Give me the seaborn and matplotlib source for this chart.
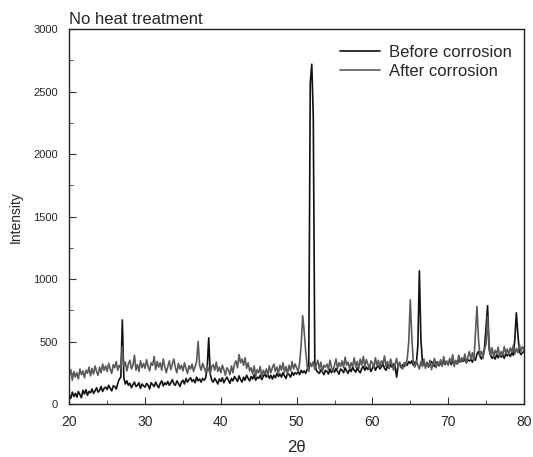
import numpy as np
import pandas as pd
import seaborn as sns
import matplotlib.pyplot as plt
from matplotlib.ticker import MultipleLocator

# 2-theta grid, 0.2 deg steps from 20 to 80
two_theta = np.linspace(20, 80, 301)

# intensity, five samples per degree
before_corrosion = [
    70, 45, 95, 60, 85,   55, 100, 75, 50, 110,   80, 115, 70, 100, 90,   120, 85, 105, 130, 95,
    110, 140, 100, 125, 135,   115, 150, 125, 105, 145,   140, 120, 165, 200, 215,   673, 210, 160, 185, 150,
    165, 130, 155, 175, 140,   150, 170, 125, 160, 145,   135, 165, 150, 120, 170,   155, 140, 175, 150, 130,
    165, 185, 145, 170, 155,   180, 150, 170, 195, 160,   150, 185, 165, 140, 175,   190, 160, 205, 175, 195,
    210, 180, 195, 170, 215,   185, 200, 175, 205, 190,   210, 290, 530, 240, 190,   175, 205, 185, 160, 200,
    180, 210, 170, 195, 215,   190, 165, 205, 185, 220,   200, 180, 225, 195, 175,   215, 190, 230, 205, 185,
    220, 200, 235, 190, 215,   205, 230, 195, 220, 240,   215, 240, 205, 230, 200,   230, 210, 245, 220, 240,
    215, 250, 225, 205, 245,   235, 215, 255, 230, 250,   240, 260, 235, 270, 250,   265, 245, 280, 310, 2570,
    2720, 2300, 330, 270, 255,   245, 275, 255, 235, 270,   260, 240, 280, 250, 275,   255, 285, 260, 240, 280,
    270, 250, 290, 265, 245,   280, 260, 295, 270, 255,   290, 265, 250, 285, 300,   270, 295, 275, 305, 260,
    285, 310, 270, 295, 305,   280, 300, 320, 285, 270,   305, 285, 315, 295, 320,   300, 215, 310, 325, 290,
    315, 300, 330, 310, 340,   325, 345, 310, 335, 320,   470, 1066, 520, 340, 315,   305, 330, 295, 325, 340,
    315, 300, 335, 320, 305,   330, 310, 345, 315, 335,   325, 345, 315, 340, 330,   345, 320, 355, 335, 350,
    340, 360, 330, 355, 345,   355, 335, 370, 350, 400,   420, 380, 360, 395, 450,   620, 786, 470, 390, 365,
    380, 360, 395, 370, 400,   375, 395, 365, 405, 385,   400, 380, 410, 390, 520,   730, 560, 420, 395, 410,
    420,
]

after_corrosion = [
    230, 275, 190, 260, 215,   250, 200, 280, 235, 265,   210, 270, 245, 295, 225,   285, 240, 305, 260, 230,
    295, 250, 320, 270, 305,   260, 325, 280, 245, 315,   290, 340, 270, 310, 285,   460, 300, 335, 265, 320,
    350, 280, 310, 390, 270,   315, 260, 345, 290, 325,   285, 355, 300, 265, 330,   310, 380, 275, 340, 295,
    330, 270, 360, 300, 250,   300, 345, 275, 320, 360,   290, 250, 325, 280, 310,   265, 330, 285, 245, 305,
    280, 320, 260, 300, 340,   500, 310, 270, 325, 290,   255, 305, 275, 240, 300,   315, 270, 335, 260, 295,
    250, 310, 275, 230, 290,   270, 235, 305, 250, 320,   345, 290, 395, 330, 360,   310, 370, 285, 330, 265,
    290, 240, 305, 225, 275,   250, 300, 215, 270, 240,   280, 230, 305, 250, 290,   320, 260, 295, 245, 310,
    270, 330, 255, 300, 240,   310, 265, 340, 280, 320,   290, 260, 330, 470, 708,   580, 420, 300, 260, 330,
    300, 340, 275, 315, 350,   280, 335, 260, 310, 295,   320, 275, 350, 295, 265,   310, 360, 285, 330, 300,
    345, 290, 375, 310, 335,   280, 330, 300, 370, 295,   340, 285, 360, 310, 380,   300, 355, 320, 280, 345,
    330, 290, 370, 310, 350,   295, 345, 320, 385, 300,   340, 285, 360, 315, 270,   320, 365, 290, 335, 300,
    280, 330, 305, 360, 500,   834, 540, 330, 295, 345,   310, 280, 340, 300, 360,   285, 335, 300, 350, 275,
    320, 365, 290, 340, 310,   355, 300, 380, 320, 345,   310, 365, 330, 395, 300,   350, 320, 390, 335, 370,
    345, 400, 330, 375, 420,   360, 410, 350, 560, 780,   520, 390, 420, 365, 440,   480, 700, 430, 390, 450,
    375, 430, 400, 455, 380,   420, 390, 460, 405, 440,   395, 450, 415, 470, 400,   445, 410, 475, 420, 460,
    430,
]

series_names = ["Before corrosion", "After corrosion"]
series_colors = ["#111111", "#5a5a5a"]

sns.set_style("ticks")
plt.rcParams['font.family'] = ['Liberation Sans', 'DejaVu Sans']

fig = plt.figure(figsize=(5.33, 4.57), dpi=100)
ax = fig.add_axes([0.130, 0.116, 0.853, 0.820])

for name, vals, col in zip(series_names, [before_corrosion, after_corrosion], series_colors):
    df = pd.DataFrame({"two_theta": two_theta, "intensity": vals})
    sns.lineplot(data=df, x="two_theta", y="intensity", color=col, linewidth=1.2,
                 label=name, ax=ax, estimator=None, sort=False)

ax.set_xlim(20, 80)
ax.set_ylim(0, 3000)
ax.xaxis.set_major_locator(MultipleLocator(10))
ax.xaxis.set_minor_locator(MultipleLocator(5))
ax.yaxis.set_major_locator(MultipleLocator(500))
ax.yaxis.set_minor_locator(MultipleLocator(250))
ax.tick_params(which="both", direction="in", top=False, right=False, color="#333333")
ax.tick_params(which="major", length=5)
ax.tick_params(which="minor", length=3)
ax.tick_params(axis="x", labelsize=10, pad=8)
ax.tick_params(axis="y", labelsize=8, pad=8)

ax.set_xlabel("2θ", fontsize=12, labelpad=8)
ax.set_ylabel("Intensity", fontsize=10, labelpad=8)
ax.set_title("No heat treatment", fontsize=12, loc="left", pad=4)

for sp in ax.spines.values():
    sp.set_linewidth(1.0)
    sp.set_color("#222222")

ax.legend(loc="upper right", bbox_to_anchor=(0.995, 0.985), frameon=False, fontsize=12,
          handlelength=2.4, handletextpad=0.55, labelspacing=0.25, borderaxespad=0.2)

fig.savefig("out.png", dpi=100)
